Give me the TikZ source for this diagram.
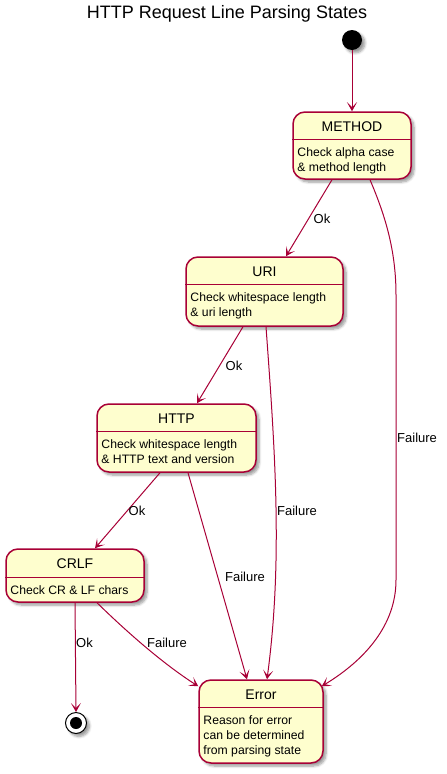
\documentclass[tikz,border=0pt]{standalone}
\usepackage{fontspec}
\setmainfont{Liberation Sans}
\usetikzlibrary{arrows.meta,shadows.blur}
\definecolor{statefill}{HTML}{FEFECE}
\definecolor{stateline}{HTML}{A80036}
\begin{document}
\begin{tikzpicture}[x=1pt,y=-1pt,
  shadowed/.style={blur shadow={shadow xshift=3pt, shadow yshift=-3pt, shadow opacity=40, shadow blur steps=6, shadow blur radius=2.5pt}},
  statebox/.style={draw=stateline, fill=statefill, line width=1.5pt, rounded corners=12pt, inner sep=0pt, shadowed},
  sname/.style={font=\fontsize{14}{16}\selectfont, inner sep=0pt},
  sdesc/.style={font=\fontsize{12.2}{14.8}\selectfont, align=left, inner sep=0pt, anchor=north west},
  sep/.style={draw=stateline, line width=1.5pt},
  tr/.style={draw=stateline, line width=1pt, -{Stealth[length=9pt,width=10pt,inset=5pt]}},
  lbl/.style={font=\fontsize{13}{15}\selectfont, inner sep=0pt}
]
\useasboundingbox (0,0) rectangle (447,774);

\node[font=\fontsize{18}{20}\selectfont, inner sep=0pt, anchor=base] (title) at (227,18) {HTTP Request Line Parsing States};

% start / end
\node[circle, fill=black, minimum size=20pt, inner sep=0pt, shadowed] (start) at (352,40) {};
\node[circle, draw=black, fill=white, line width=1pt, minimum size=21pt, inner sep=0pt, shadowed] (end) at (76,723) {};
\node[circle, fill=black, minimum size=12pt, inner sep=0pt] (enddot) at (end.center) {};

% METHOD
\node[statebox, minimum width=118pt, minimum height=67pt] (method) at (352,145.5) {};
\draw[sep] ([yshift=-28pt]method.north west) -- ([yshift=-28pt]method.north east);
\node[sname] (methodname) at ([yshift=-15pt]method.north) {METHOD};
\node[sdesc] (methoddesc) at ([xshift=5pt,yshift=-36.5pt]method.north west) {Check alpha case\\\& method length};

% URI
\node[statebox, minimum width=157pt, minimum height=69pt] (uri) at (264.5,291.5) {};
\draw[sep] ([yshift=-28pt]uri.north west) -- ([yshift=-28pt]uri.north east);
\node[sname] (uriname) at ([yshift=-15pt]uri.north) {URI};
\node[sdesc] (uridesc) at ([xshift=5pt,yshift=-36.5pt]uri.north west) {Check whitespace length\\\& uri length};

% HTTP
\node[statebox, minimum width=159pt, minimum height=68pt] (http) at (176.5,438) {};
\draw[sep] ([yshift=-28pt]http.north west) -- ([yshift=-28pt]http.north east);
\node[sname] (httpname) at ([yshift=-15pt]http.north) {HTTP};
\node[sdesc] (httpdesc) at ([xshift=5pt,yshift=-36.5pt]http.north west) {Check whitespace length\\\& HTTP text and version};

% CRLF
\node[statebox, minimum width=138pt, minimum height=53pt] (crlf) at (75,575.5) {};
\draw[sep] ([yshift=-29pt]crlf.north west) -- ([yshift=-29pt]crlf.north east);
\node[sname] (crlfname) at ([yshift=-15pt]crlf.north) {CRLF};
\node[sdesc] (crlfdesc) at ([xshift=5pt,yshift=-37pt]crlf.north west) {Check CR \& LF chars};

% Error
\node[statebox, minimum width=124pt, minimum height=83pt] (error) at (261,721.5) {};
\draw[sep] ([yshift=-28pt]error.north west) -- ([yshift=-28pt]error.north east);
\node[sname] (errorname) at ([yshift=-15pt]error.north) {Error};
\node[sdesc] (errordesc) at ([xshift=5pt,yshift=-36.5pt]error.north west) {Reason for error\\can be determined\\from parsing state};

% transitions
\draw[tr] (start.south) -- (method.north);
\draw[tr] ([xshift=-20pt]method.south) -- ([xshift=21.5pt]uri.north);
\draw[tr] ([xshift=18pt]method.south) .. controls (385,215) and (396,250) .. (396,295) -- (396,580) .. controls (396,625) and (365,660) .. ([xshift=-2pt,yshift=-7pt]error.north east);
\draw[tr] ([xshift=-21.5pt]uri.south) -- ([xshift=20.5pt]http.north);
\draw[tr] ([xshift=1.5pt]uri.south) .. controls (275,450) and (283,560) .. ([xshift=6pt]error.north);
\draw[tr] ([xshift=-16.5pt]http.south) -- ([xshift=20pt]crlf.north);
\draw[tr] ([xshift=11.5pt]http.south) -- ([xshift=-14pt]error.north);
\draw[tr] (crlf.south) -- (end.north);
\draw[tr] ([xshift=22pt]crlf.south) .. controls (130,635) and (165,665) .. ([yshift=-7pt]error.north west);

% labels
\node[lbl] (l1) at (322,219) {Ok};
\node[lbl, anchor=west] (l2) at (397,438) {Failure};
\node[lbl] (l3) at (234,366) {Ok};
\node[lbl] (l4) at (297,511) {Failure};
\node[lbl] (l5) at (137,511) {Ok};
\node[lbl] (l6) at (245,577) {Failure};
\node[lbl] (l7) at (84.5,643) {Ok};
\node[lbl] (l8) at (167,643) {Failure};
\end{tikzpicture}
\end{document}
